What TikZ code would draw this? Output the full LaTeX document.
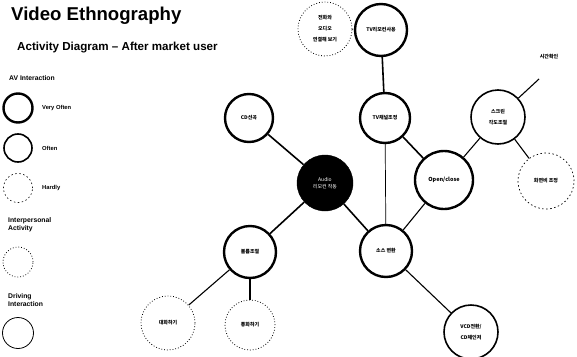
\documentclass[tikz,border=0pt]{standalone}
\usepackage{fontspec}
\setmainfont{Liberation Sans}
\newfontfamily\kr{Noto Sans CJK KR}
\begin{document}
\begin{tikzpicture}[x=1pt,y=-1pt,
  base/.style={circle,draw=black,fill=white,align=center,inner sep=0pt,font=\kr\bfseries\fontsize{5}{8}\selectfont},
  vof/.style={base,line width=2.4pt},
  oft/.style={base,line width=1.6pt},
  hrd/.style={base,line width=0.6pt,dash pattern=on 1.5pt off 2.5pt},
  ipa/.style={base,line width=0.8pt,dotted},
  drv/.style={base,line width=0.8pt},
  thk/.style={line width=1.6pt},
  med/.style={line width=1.1pt},
  thn/.style={line width=0.7pt},
  lbl/.style={font=\bfseries\fontsize{5.8}{6.5}\selectfont,anchor=west,align=left,inner sep=0pt},
  hdr/.style={font=\bfseries\fontsize{6.8}{8}\selectfont,anchor=west,align=left,inner sep=0pt}
]
\path[use as bounding box,fill=white] (0,0) rectangle (577,356);
% titles
\node[anchor=west,inner sep=0pt,font=\bfseries\fontsize{18.6}{20}\selectfont] (title) at (11,16) {Video Ethnography};
\node[anchor=west,inner sep=0pt,font=\bfseries\fontsize{11.6}{13}\selectfont] (sub) at (17,48) {Activity Diagram -- After market user};
% legend
\node[hdr] (avi) at (9,78) {AV Interaction};
\node[vof,minimum size=29pt] (l1) at (18,108) {};
\node[lbl] (l1t) at (42,108) {Very Often};
\node[oft,minimum size=28pt] (l2) at (18,148) {};
\node[lbl] (l2t) at (42,148) {Often};
\node[hrd,minimum size=29pt] (l3) at (18,188) {};
\node[lbl] (l3t) at (42,188) {Hardly};
\node[hdr] (ipt) at (8,225) {Interpersonal\\Activity};
\node[ipa,minimum size=30pt] (l4) at (18,262) {};
\node[hdr] (dvt) at (8,300) {Driving\\Interaction};
\node[drv,minimum size=31pt] (l5) at (18,333) {};
% main nodes
\node[vof,minimum size=48pt] (cd) at (249,118) {CD선곡};
\node[vof,minimum size=50pt] (tvc) at (385,118) {TV채널조정};
\node[vof,minimum size=52pt] (tvr) at (381,30) {TV리모컨사용};
\node[ipa,minimum size=54pt] (ph) at (325,29) {전화와\\[3pt]오디오\\[3pt]연결해 보기};
\node[circle,fill=black,draw=black,minimum size=56pt,inner sep=0pt,align=center,text=white,font=\kr\fontsize{5}{7}\selectfont] (au) at (325,183) {Audio\\리모컨 작동};
\node[vof,minimum size=52pt] (src) at (386,251) {소스 변환};
\node[vof,minimum size=58pt] (oc) at (444,180) {\fontsize{5.5}{7}\selectfont Open/close};
\node[oft,minimum size=54pt] (scr) at (498,117) {스크린\\[3pt]각도조절};
\node[hrd,line width=0.7pt,minimum size=56pt] (asp) at (546,181) {화면비 조정};
\node[vof,minimum size=52pt] (vol) at (250,252) {볼륨조절};
\node[ipa,minimum size=54pt] (talk) at (168,323) {대화하기};
\node[ipa,minimum size=50pt] (call) at (250,325) {통화하기};
\node[oft,minimum size=54pt] (vcd) at (471,332) {VCD전환/\\[3pt]CD체인저};
\node[inner sep=0pt,font=\kr\bfseries\fontsize{5}{6}\selectfont] (time) at (549,57) {시간확인};
\coordinate (tend) at (539,79);
% edges
\draw[thk] (au) -- (cd);
\draw[thk] (au) -- (vol);
\draw[thk] (au) -- (src);
\draw[thn] (tvc) -- (src);
\draw[thk] (tvc) -- (oc);
\draw[med] (oc) -- (src);
\draw[med] (oc) -- (scr);
\draw[med] (scr) -- (asp);
\draw[med] (scr) -- (tend);
\draw[med] (vol) -- (talk);
\draw[thk] (vol) -- (call);
\draw[med] (src) -- (vcd);
\draw[thk] (tvr) -- (tvc);
\draw[thn,dotted] (ph) -- (tvr);
\end{tikzpicture}
\end{document}
